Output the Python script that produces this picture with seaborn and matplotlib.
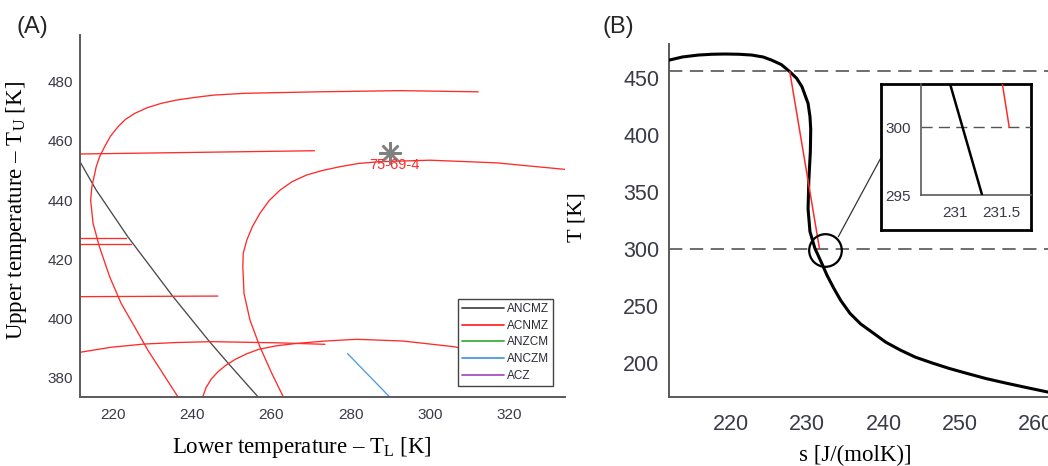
import matplotlib
matplotlib.use("Agg")
import matplotlib.pyplot as plt
import seaborn as sns
import pandas as pd
from matplotlib.lines import Line2D

# ---------------- Panel A data ----------------
series_names = ["ANCMZ", "ACNMZ", "ANZCM", "ANCZM", "ACZ"]
series_colors = ["#4a4a4a", "#ff2b2b", "#3fae3f", "#4c9be0", "#a94fc0"]

ancmz_TL = [211.7, 215.8, 223.8, 235.2, 244.4, 249.5, 256.6]
ancmz_TU = [453.0, 443.4, 427.6, 407.4, 392.2, 384.3, 373.6]

acnmz1_TL = [312.2, 292.5, 271.8, 253.3, 245.5, 240.6, 236.0, 232.2, 228.6, 225.5,
             223.2, 221.3, 219.4, 217.9, 216.7, 215.8, 214.7, 214.4, 215.0, 216.6,
             219.2, 222.1, 225.5, 228.8, 232.6, 236.4]
acnmz1_TU = [476.6, 477.0, 476.6, 476.1, 475.5, 474.7, 473.8, 472.7, 471.2, 469.3,
             467.3, 464.8, 461.6, 458.0, 454.8, 451.3, 444.5, 440.0, 432.2, 424.3,
             414.1, 405.1, 397.2, 389.4, 381.5, 373.6]
acnmz2_TL = [334.1, 316.9, 300.1, 287.4, 282.0, 277.3, 272.8, 268.9, 265.3, 262.2,
             259.4, 257.1, 255.2, 253.8, 252.9, 252.8, 253.1, 254.6, 257.1, 260.1,
             263.0]
acnmz2_TU = [450.4, 452.6, 453.5, 453.0, 452.4, 451.3, 450.0, 448.5, 446.3, 443.4,
             439.8, 435.5, 431.0, 426.5, 422.0, 417.5, 408.5, 399.5, 390.5, 381.5,
             373.6]
acnmz3_TL = [242.7, 243.5, 244.8, 246.5, 248.6, 251.0, 253.8, 256.8, 261.3, 266.4,
             273.5, 281.5, 293.3, 306.0, 318.0]
acnmz3_TU = [373.6, 376.6, 379.5, 382.0, 384.3, 386.3, 388.1, 389.6, 390.8, 391.6,
             392.4, 393.0, 392.4, 390.5, 387.5]
acnmz4_TL = [211.7, 219.5, 228.0, 236.0, 244.8, 261.7, 273.5]
acnmz4_TU = [388.6, 390.3, 391.4, 391.9, 392.2, 391.8, 391.3]
acnmz5_TL = [211.7, 270.9]
acnmz5_TU = [455.6, 456.7]
acnmz6_TL = [211.7, 223.4]
acnmz6_TU = [427.1, 427.1]
acnmz7_TL = [211.7, 224.6]
acnmz7_TU = [425.2, 425.2]
acnmz8_TL = [211.7, 246.5]
acnmz8_TU = [407.4, 407.6]
anczm_TL = [279.2, 289.8]
anczm_TU = [388.2, 373.6]

star_TL = [289.9]
star_TU = [456.1]
star_label = "75-69-4"

A_xticks = [220, 240, 260, 280, 300, 320]
A_yticks = [380, 400, 420, 440, 460, 480]

# ---------------- Panel B data ----------------
s_curve = [211.9, 213.6, 215.7, 217.5, 219.2, 221.0, 222.7, 224.2, 225.3, 226.6,
           227.7, 228.6, 229.3, 229.7, 230.1, 230.35, 230.45, 230.4, 230.2, 230.1,
           230.35, 231.0, 231.9, 232.6, 233.5, 234.4, 235.6, 237.0, 238.7, 240.3,
           242.2, 244.2, 246.5, 248.6, 250.9, 253.5, 256.2, 258.9, 261.6]
T_curve = [465.5, 468.2, 469.9, 470.6, 470.8, 470.6, 469.9, 468.2, 465.5, 461.5,
           455.3, 449.5, 442.1, 434.8, 427.5, 416.0, 405.0, 385.0, 360.0, 335.0,
           315.0, 300.3, 287.2, 276.5, 265.0, 254.5, 243.3, 234.0, 225.8, 218.0,
           211.1, 204.8, 199.5, 195.0, 190.7, 186.0, 181.9, 178.0, 174.2]
red_s = [227.7, 231.6]
red_T = [455.3, 300.0]
dashed_T = [455.5, 300.0]
B_xticks = [220, 230, 240, 250, 260]
B_yticks = [200, 250, 300, 350, 400, 450]

zoom_black_s = [230.946, 231.29]
zoom_black_T = [303.2, 295.0]
zoom_red_s = [231.506, 231.58]
zoom_red_T = [303.2, 300.0]
zoom_xticks = [231, 231.5]
zoom_xlabels = ["231", "231.5"]
zoom_yticks = [295, 300]
zoom_ylabels = ["295", "300"]

circle_s = [232.3]
circle_T = [299.0]
connector_s = [234.07, 239.63]
connector_T = [310.5, 379.3]

# ---------------- style ----------------
sns.set_style("white")
plt.rcParams["font.family"] = ["Liberation Sans", "DejaVu Sans"]
plt.rcParams["mathtext.fontset"] = "custom"
plt.rcParams["mathtext.rm"] = "Liberation Serif"
plt.rcParams["mathtext.it"] = "Liberation Serif:italic"

SERIF = "Liberation Serif"
TICKC = "#3a3a48"
SPINEC = "#5a5a5a"

fig = plt.figure(figsize=(10.48, 4.66), dpi=100)

# ---------------- Panel A ----------------
axA = fig.add_axes([0.0763, 0.1487, 0.4628, 0.7762])
curves = [
    ("ANCMZ", "k1", ancmz_TL, ancmz_TU),
    ("ACNMZ", "r1", acnmz1_TL, acnmz1_TU),
    ("ACNMZ", "r2", acnmz2_TL, acnmz2_TU),
    ("ACNMZ", "r3", acnmz3_TL, acnmz3_TU),
    ("ACNMZ", "r4", acnmz4_TL, acnmz4_TU),
    ("ACNMZ", "r5", acnmz5_TL, acnmz5_TU),
    ("ACNMZ", "r6", acnmz6_TL, acnmz6_TU),
    ("ACNMZ", "r7", acnmz7_TL, acnmz7_TU),
    ("ACNMZ", "r8", acnmz8_TL, acnmz8_TU),
    ("ANCZM", "b1", anczm_TL, anczm_TU),
]
rows = []
for ser, cid, xs, ys in curves:
    for i, (x, y) in enumerate(zip(xs, ys)):
        rows.append({"series": ser, "curve": cid, "order": i, "TL": x, "TU": y})
dfA = pd.DataFrame(rows)
palette = dict(zip(series_names, series_colors))
sns.lineplot(data=dfA, x="TL", y="TU", hue="series", units="curve", estimator=None,
             sort=False, palette=palette, legend=False, linewidth=0.95, ax=axA)

axA.plot(star_TL, star_TU, marker=(8, 2, 0), markersize=16, color="#808080",
         markeredgewidth=1.8, linestyle="none", zorder=5)
axA.text(star_TL[0] + 1.1, star_TU[0] - 4.2, star_label, color="#ff2b2b",
         fontsize=10.5, ha="center", va="center", zorder=6)

axA.set_xlim(211.7, 334.1)
axA.set_ylim(373.6, 495.8)
axA.set_xticks(A_xticks)
axA.set_yticks(A_yticks)
for sp in ["top", "right"]:
    axA.spines[sp].set_visible(False)
for sp in ["left", "bottom"]:
    axA.spines[sp].set_color(SPINEC)
    axA.spines[sp].set_linewidth(1.4)
axA.tick_params(axis="both", direction="in", length=4, width=1, color=SPINEC,
                labelsize=11, labelcolor=TICKC)
axA.tick_params(axis="x", pad=8)
axA.tick_params(axis="y", pad=5)
axA.set_xlabel("Lower temperature – T$_{\\mathrm{L}}$ [K]", fontfamily=SERIF,
               fontsize=16.5, color="black")
axA.set_ylabel("Upper temperature – T$_{\\mathrm{U}}$ [K]", fontfamily=SERIF,
               fontsize=16.5, color="black")
axA.xaxis.set_label_coords((302 - 80) / 485, -0.105)
axA.yaxis.set_label_coords(-0.105, 0.514)

handles = [Line2D([0], [0], color=c, lw=1.3) for c in series_colors]
leg = axA.legend(handles, series_names, loc="lower right",
                 bbox_to_anchor=(0.976, 0.0296), borderaxespad=0, fontsize=8.5,
                 frameon=True, fancybox=False, framealpha=1, edgecolor="#444444",
                 handlelength=3.5, handletextpad=0.3, labelspacing=0.4,
                 borderpad=0.35)
leg.get_frame().set_linewidth(1.0)
for t in leg.get_texts():
    t.set_color("#2a2a38")

# ---------------- Panel B ----------------
axB = fig.add_axes([0.6384, 0.1481, 0.3616, 0.7575])
for t in dashed_T:
    axB.axhline(t, color="#555555", lw=1.2, dashes=(8, 4.5), zorder=1)
sns.lineplot(x=s_curve, y=T_curve, sort=False, estimator=None, color="black",
             linewidth=2.2, ax=axB, zorder=3)
sns.lineplot(x=red_s, y=red_T, sort=False, estimator=None, color="#ff2b2b",
             linewidth=1.1, ax=axB, zorder=4)
axB.plot(circle_s, circle_T, marker="o", markersize=23.5, markerfacecolor="none",
         markeredgecolor="black", markeredgewidth=1.6, linestyle="none", zorder=5)
axB.plot(connector_s, connector_T, color="#333333", lw=0.9, zorder=5)
axB.set_xlim(211.85, 261.6)
axB.set_ylim(169.9, 479.6)
axB.set_xticks(B_xticks)
axB.set_yticks(B_yticks)
for sp in ["top", "right"]:
    axB.spines[sp].set_visible(False)
for sp in ["left", "bottom"]:
    axB.spines[sp].set_color(SPINEC)
    axB.spines[sp].set_linewidth(1.4)
axB.tick_params(axis="both", direction="in", length=4, width=1, color=SPINEC,
                labelsize=15.5, labelcolor=TICKC)
axB.tick_params(axis="x", pad=12)
axB.tick_params(axis="y", pad=7)
axB.set_xlabel("s [J/(molK)]", fontfamily=SERIF, fontsize=16.5, color="black")
axB.set_ylabel("T [K]", fontfamily=SERIF, fontsize=16, color="black")
axB.xaxis.set_label_coords(0.491, -0.135)
axB.yaxis.set_label_coords(-0.219, 0.51)

# inset frame
box = fig.add_axes([0.8404, 0.5064, 0.1431, 0.3133], zorder=10)
box.set_facecolor("white")
box.set_xticks([])
box.set_yticks([])
for sp in box.spines.values():
    sp.set_color("black")
    sp.set_linewidth(2.0)

ins = fig.add_axes([0.8785, 0.5815, 0.1050, 0.2382], zorder=11)
ins.patch.set_alpha(0)
ins.axhline(300, color="#555555", lw=1.0, dashes=(8, 4.5), zorder=1)
sns.lineplot(x=zoom_black_s, y=zoom_black_T, sort=False, estimator=None,
             color="black", linewidth=1.8, ax=ins, zorder=3)
sns.lineplot(x=zoom_red_s, y=zoom_red_T, sort=False, estimator=None,
             color="#ff2b2b", linewidth=1.1, ax=ins, zorder=4)
ins.set_xlim(230.633, 231.81)
ins.set_ylim(295.0, 303.16)
ins.set_xticks(zoom_xticks)
ins.set_xticklabels(zoom_xlabels)
ins.set_yticks(zoom_yticks)
ins.set_yticklabels(zoom_ylabels)
for sp in ["top", "right"]:
    ins.spines[sp].set_visible(False)
for sp in ["left", "bottom"]:
    ins.spines[sp].set_color(SPINEC)
    ins.spines[sp].set_linewidth(1.2)
ins.tick_params(axis="both", direction="in", length=3, width=1, color=SPINEC,
                labelsize=11, labelcolor=TICKC)
ins.tick_params(axis="x", pad=8)
ins.tick_params(axis="y", pad=7)
ins.set_xlabel("")
ins.set_ylabel("")

# panel letters
fig.text(16 / 1048, 1 - 33 / 466, "(A)", fontsize=17, va="baseline", ha="left")
fig.text(602 / 1048, 1 - 33 / 466, "(B)", fontsize=17, va="baseline", ha="left")

fig.savefig("out.png", dpi=100)
